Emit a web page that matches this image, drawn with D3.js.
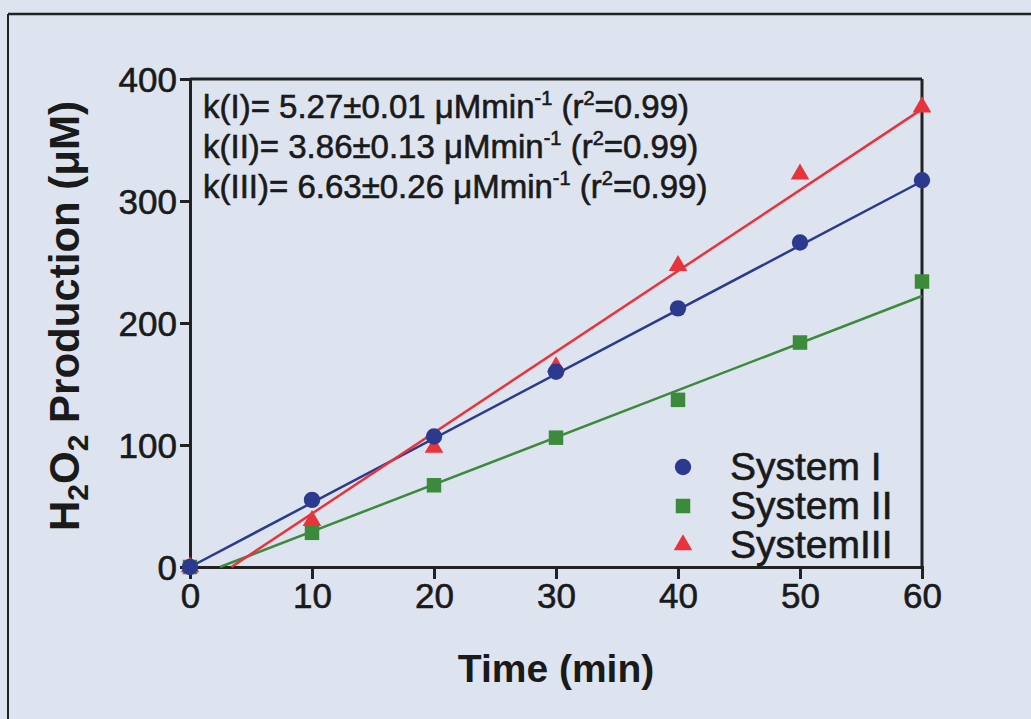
<!DOCTYPE html>
<html><head><meta charset="utf-8">
<script src="https://cdn.jsdelivr.net/npm/d3@7"></script>
<style>
html,body{margin:0;padding:0;background:#dde4ef;}
svg{display:block;}
text{font-family:"Liberation Sans",Arial,sans-serif;fill:#1a1a1a;}
.heavy{stroke:#1a1a1a;stroke-width:0.6px;}
</style></head><body>
<svg id="c" width="1031" height="719"></svg>
<script>
const times = [0, 10, 20, 30, 40, 50, 60];
const systemI = [0, 55, 107, 160, 212, 266, 317];
const systemII = [0, 28, 67, 106, 137, 184, 234];
const systemIII = [0, 38, 98, 164, 247, 322, 377];
const seriesNames = ["System I", "System II", "SystemIII"];
const slopes = [5.27, 3.86, 6.63];
const intercepts = [0, -9.5, -22.5];
const xTicks = [0, 10, 20, 30, 40, 50, 60];
const yTicks = [0, 100, 200, 300, 400];
const annotations = [
  "k(I)= 5.27\u00B10.01 \u03BCMmin",
  "k(II)= 3.86\u00B10.13 \u03BCMmin",
  "k(III)= 6.63\u00B10.26 \u03BCMmin"
];

const colors = ["#2b3a8f", "#3c8a3c", "#e8323c"];
const symbols = [d3.symbolCircle, d3.symbolSquare, d3.symbolTriangle];
const symSizes = [210, 210, 150];
const seriesData = [systemI, systemII, systemIII];

const svg = d3.select("#c");
const L = 190, R = 922, T = 79, B = 567;
const x = d3.scaleLinear().domain([0, 60]).range([L, R]);
const y = d3.scaleLinear().domain([0, 400]).range([B, T]);

// outer frame of the scanned figure
svg.append("line").attr("x1", 8).attr("x2", 1031).attr("y1", 14).attr("y2", 14)
  .attr("stroke", "#222").attr("stroke-width", 2.5);
svg.append("line").attr("x1", 8).attr("x2", 8).attr("y1", 14).attr("y2", 719)
  .attr("stroke", "#222").attr("stroke-width", 2);

// plot box top & right
svg.append("line").attr("x1", L).attr("x2", R).attr("y1", T).attr("y2", T)
  .attr("stroke", "#222").attr("stroke-width", 3);
svg.append("line").attr("x1", R).attr("x2", R).attr("y1", T).attr("y2", B)
  .attr("stroke", "#222").attr("stroke-width", 3);

// axes
const xAxis = svg.append("g").attr("transform", `translate(0,${B})`)
  .call(d3.axisBottom(x).tickValues(xTicks).tickSize(12).tickPadding(4).tickFormat(d3.format("d")));
const yAxis = svg.append("g").attr("transform", `translate(${L},0)`)
  .call(d3.axisLeft(y).tickValues(yTicks).tickSize(10).tickPadding(3).tickFormat(d3.format("d")));
[xAxis, yAxis].forEach(a => {
  a.select(".domain").attr("stroke", "#222").attr("stroke-width", 3);
  a.selectAll(".tick line").attr("stroke", "#222").attr("stroke-width", 3);
  a.selectAll(".tick text").attr("class", "heavy").style("font-family", '"Liberation Sans",Arial,sans-serif')
    .style("font-size", "35px").attr("fill", "#1a1a1a");
});
yAxis.selectAll(".tick text").attr("dy", "0.36em");
xAxis.selectAll(".tick text").attr("dy", "0.72em");

// fit lines
seriesData.forEach((s, i) => {
  const x0 = Math.max(0, -intercepts[i] / slopes[i]);
  const pts = [[x0, slopes[i] * x0 + intercepts[i]], [60, slopes[i] * 60 + intercepts[i]]];
  svg.append("path").datum(pts)
    .attr("d", d3.line().x(d => x(d[0])).y(d => y(d[1])))
    .attr("stroke", colors[i]).attr("stroke-width", 2.5).attr("fill", "none");
});

// markers (draw III, II, I so the circle sits on top at the origin)
[2, 1, 0].forEach(i => {
  svg.append("g").selectAll("path").data(times.map((t, j) => [t, seriesData[i][j]]))
    .join("path")
    .attr("transform", d => `translate(${x(d[0])},${y(d[1])})`)
    .attr("d", d3.symbol().type(symbols[i]).size(symSizes[i]))
    .attr("fill", i === 0 ? colors[i] : colors[i]);
});

// annotation text
const ann = svg.append("g");
annotations.forEach((a, i) => {
  const t = ann.append("text").attr("class", "heavy").attr("x", 203).attr("y", 118 + i * 40).style("font-size", "33px");
  t.append("tspan").text(a);
  t.append("tspan").attr("dy", -13).style("font-size", "20px").text("-1");
  t.append("tspan").attr("dy", 13).text(" (r");
  t.append("tspan").attr("dy", -13).style("font-size", "20px").text("2");
  t.append("tspan").attr("dy", 13).text("=0.99)");
});

// legend
const lg = svg.append("g");
seriesNames.forEach((n, i) => {
  const cy = 467 + i * 39;
  lg.append("path").attr("transform", `translate(683,${cy})`)
    .attr("d", d3.symbol().type(symbols[i]).size(symSizes[i])).attr("fill", colors[i]);
  lg.append("text").attr("class", "heavy").attr("x", 730).attr("y", cy + 13).style("font-size", "39px").text(n);
});

// axis titles
svg.append("text").attr("x", 556).attr("y", 682).attr("text-anchor", "middle")
  .style("font-size", "39px").style("font-weight", "bold").text("Time (min)");
const yt = svg.append("text").attr("transform", "translate(79,316) rotate(-90)")
  .attr("text-anchor", "middle").style("font-size", "42px").style("font-weight", "bold");
yt.append("tspan").text("H");
yt.append("tspan").attr("dy", 9).style("font-size", "30px").text("2");
yt.append("tspan").attr("dy", -9).text("O");
yt.append("tspan").attr("dy", 9).style("font-size", "30px").text("2");
yt.append("tspan").attr("dy", -9).text(" Production (\u03BCM)");
</script>
</body></html>
